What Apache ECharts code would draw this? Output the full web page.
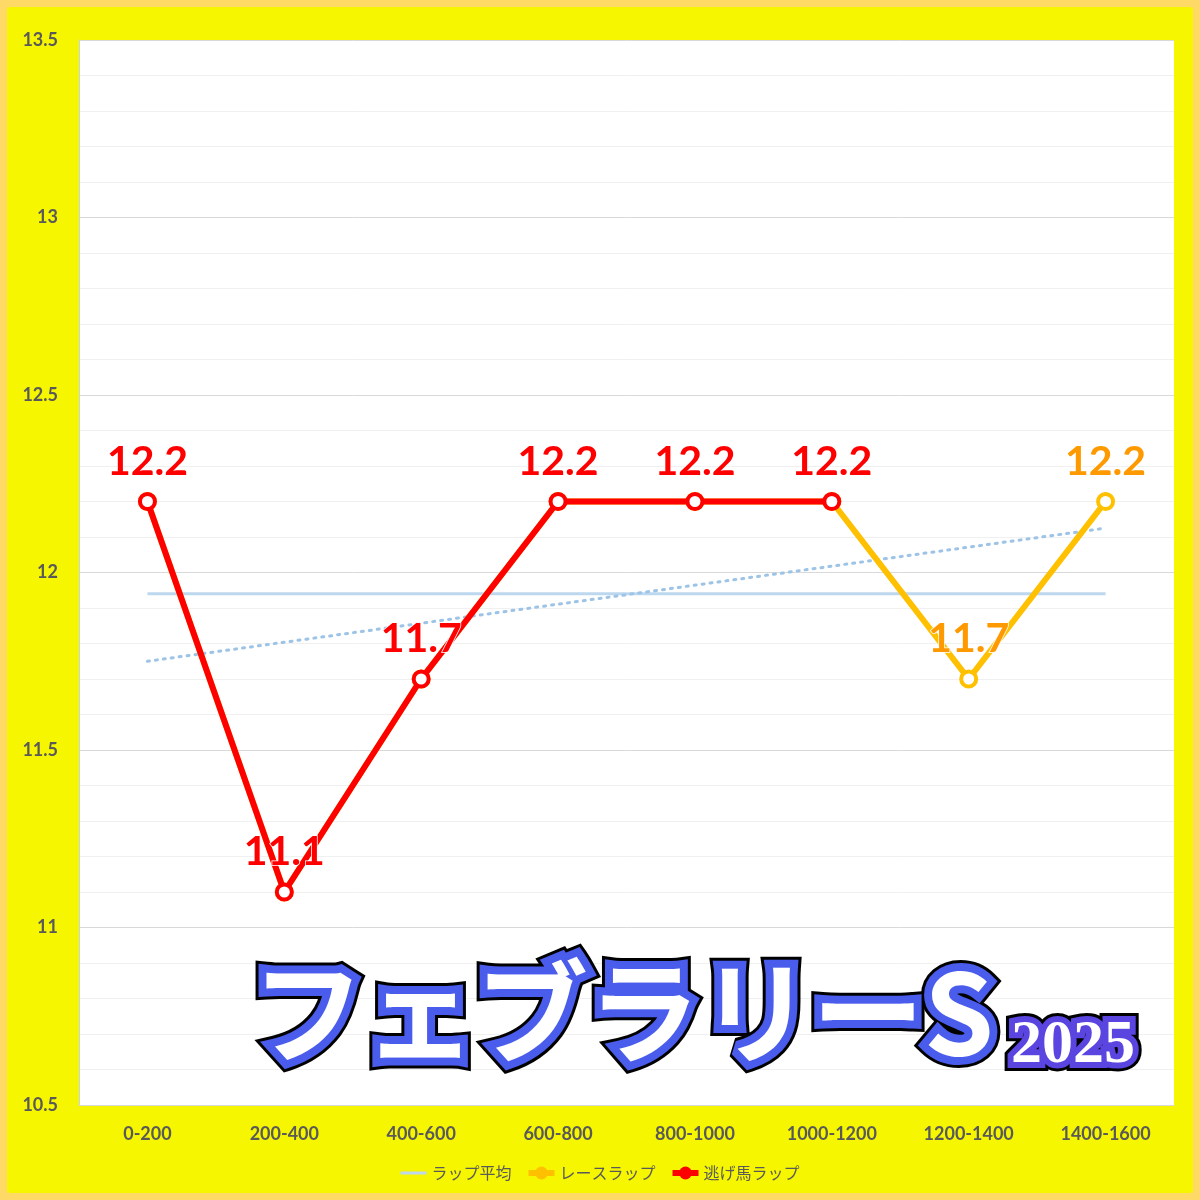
<!DOCTYPE html>
<html>
<head>
<meta charset="utf-8">
<script src="https://cdn.jsdelivr.net/npm/echarts@6/dist/echarts.min.js"></script>
<style>html,body{margin:0;padding:0;background:#FFD966;}#c{width:1200px;height:1200px;}</style>
</head>
<body>
<div id="c"></div>
<script>
const categories = ['0-200','200-400','400-600','600-800','800-1000','1000-1200','1200-1400','1400-1600'];
const raceLap = [12.2, 11.1, 11.7, 12.2, 12.2, 12.2, 11.7, 12.2];
const leaderLap = [12.2, 11.1, 11.7, 12.2, 12.2, 12.2, null, null];
const avgLap = [11.94, 11.94, 11.94, 11.94, 11.94, 11.94, 11.94, 11.94];
const trendLap = [11.75, null, null, null, null, null, null, 12.125];
const raceLabelIdx = [6, 7];

const chart = echarts.init(document.getElementById('c'), null, {renderer: 'canvas'});
const labelFont = 'Lato, "Liberation Sans", sans-serif';
function titleLayers(id, text, x, y, font, align, w1, w2, mid) {
  const base = {type: 'text', x: x, y: y, silent: true};
  return [
    Object.assign({}, base, {id: id + 'a', z: 50, style: {text: text, font: font, align: align, verticalAlign: 'middle', fill: '#000', stroke: '#000', lineWidth: w1, lineJoin: 'round'}}),
    Object.assign({}, base, {id: id + 'b', z: 60, style: {text: text, font: font, align: align, verticalAlign: 'middle', fill: mid, stroke: mid, lineWidth: w2, lineJoin: 'round'}}),
    Object.assign({}, base, {id: id + 'c', z: 70, style: {text: text, font: font, align: align, verticalAlign: 'middle', fill: '#fff', lineWidth: 0}})
  ];
}

const option = {
  backgroundColor: '#FFD966',
  animation: false,
  graphic: [
    {type: 'rect', id: 'bg', z: -10, silent: true, shape: {x: 7, y: 7, width: 1186, height: 1186, r: 3}, style: {fill: '#F6F600'}}
  ].concat(
    titleLayers('t1', 'フェブラリーS', 252, 1012, '700 112px "Noto Sans CJK JP"', 'left', 22, 16, '#4A5CEB'),
    titleLayers('t2', '2025', 1073, 1046, 'bold 62px "Liberation Serif"', 'center', 18, 12, '#5A45E0')
  ),
  grid: {left: 79, right: 26, top: 40, bottom: 95, show: true, backgroundColor: '#fff', borderWidth: 0},
  legend: {
    bottom: 14, left: 'center', itemWidth: 26, itemHeight: 16, itemGap: 14,
    textStyle: {color: '#595959', fontSize: 16, fontFamily: '"Noto Sans CJK JP"'}
  },
  xAxis: {
    type: 'category', data: categories, boundaryGap: true,
    axisLine: {show: true, lineStyle: {color: '#D9D9D9', width: 1}},
    axisTick: {show: false},
    axisLabel: {color: '#595959', fontSize: 18, fontWeight: 'bold', fontFamily: labelFont, margin: 20}
  },
  yAxis: {
    type: 'value', min: 10.5, max: 13.5, interval: 0.5,
    axisLine: {show: true, lineStyle: {color: '#BDD7EE', width: 1}},
    axisTick: {show: false},
    axisLabel: {color: '#595959', fontSize: 18, fontWeight: 'bold', fontFamily: labelFont, margin: 21},
    splitLine: {show: true, lineStyle: {color: '#D9D9D9', width: 1}},
    minorTick: {show: false, splitNumber: 5},
    minorSplitLine: {show: true, lineStyle: {color: '#F0F0F0', width: 1}}
  },
  series: [
    {
      name: 'ラップ平均', type: 'line', data: avgLap, symbol: 'none', z: 2,
      lineStyle: {color: '#BDD7EE', width: 3}, itemStyle: {color: '#BDD7EE'}
    },
    {
      name: 'トレンド', type: 'line', data: trendLap, connectNulls: true, symbol: 'none', z: 3,
      lineStyle: {color: '#9DC3E6', width: 3, type: [2, 6], cap: 'round'}
    },
    {
      name: 'レースラップ', type: 'line', data: raceLap.map((v, i) => ({
        value: v,
        label: {show: raceLabelIdx.indexOf(i) >= 0}
      })),
      z: 4, symbol: 'circle', symbolSize: 15, showAllSymbol: true,
      lineStyle: {color: '#FFC000', width: 6},
      itemStyle: {color: '#fff', borderColor: '#FFC000', borderWidth: 4},
      label: {show: false, position: 'top', distance: 10, color: '#FF9900', fontSize: 41, fontWeight: 'bold', fontFamily: labelFont, textBorderColor: '#fff', textBorderWidth: 1.5},
      emphasis: {disabled: true}
    },
    {
      name: '逃げ馬ラップ', type: 'line', data: leaderLap,
      z: 5, symbol: 'circle', symbolSize: 15, showAllSymbol: true,
      lineStyle: {color: '#FF0000', width: 6},
      itemStyle: {color: '#fff', borderColor: '#FF0000', borderWidth: 4},
      label: {show: true, position: 'top', distance: 10, color: '#FF0000', fontSize: 41, fontWeight: 'bold', fontFamily: labelFont, textBorderColor: '#fff', textBorderWidth: 1.5},
      emphasis: {disabled: true}
    }
  ]
};
option.legend.data = [
  {name: 'ラップ平均', icon: 'path://M0,0 L26,0 L26,3 L0,3 Z', itemStyle: {color: '#BDD7EE'}},
  {name: 'レースラップ', itemStyle: {color: '#FFC000', borderColor: '#FFC000', borderWidth: 0}, lineStyle: {width: 6, color: '#FFC000'}},
  {name: '逃げ馬ラップ', itemStyle: {color: '#FF0000', borderColor: '#FF0000', borderWidth: 0}, lineStyle: {width: 6, color: '#FF0000'}}
];
chart.setOption(option);
</script>
</body>
</html>
